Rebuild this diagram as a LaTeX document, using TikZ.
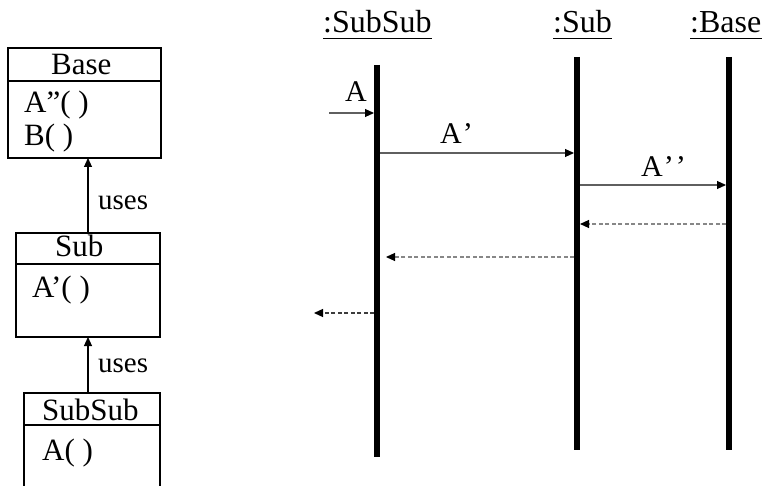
\documentclass[tikz,border=0pt]{standalone}
\usepackage{fontspec}
\setmainfont{Liberation Serif}
\usetikzlibrary{arrows.meta}
\begin{document}
\begin{tikzpicture}[x=1pt,y=-1pt,
  txt/.style={anchor=base west,inner sep=0pt,font=\fontsize{31}{36}\selectfont},
  hdr/.style={anchor=base west,inner sep=0pt,font=\fontsize{32}{38}\selectfont},
  lbl/.style={anchor=base west,inner sep=0pt,font=\fontsize{30}{36}\selectfont},
  usestxt/.style={anchor=base west,inner sep=0pt,font=\fontsize{29}{35}\selectfont},
  box/.style={draw=black,line width=1.1pt},
  life/.style={line width=5.8pt,black},
  msg/.style={draw={rgb,255:red,95;green,95;blue,95},line width=1.1pt,-{Triangle[length=9pt,width=8pt,black]}},
  ret/.style={draw={rgb,255:red,135;green,135;blue,135},line width=1.1pt,dash pattern=on 4pt off 2.5pt,-{Triangle[length=9pt,width=8pt,black]}},
  retdark/.style={draw={rgb,255:red,60;green,60;blue,60},line width=1.3pt,dash pattern=on 4pt off 2.5pt,-{Triangle[length=9pt,width=8pt,black]}},
  uses/.style={draw=black,line width=1.1pt,-{Triangle[length=9pt,width=8pt]}}]
\useasboundingbox (0,0) rectangle (765,486);
\clip (0,0) rectangle (765,486);
% class boxes
\draw[box] (8,48) rectangle (161,158);
\draw[box] (8,81) -- (161,81);
\node[txt] (tbase) at (51,75) {Base};
\node[txt] (tbA) at (24,113) {A”( )};
\node[txt] (tbB) at (24,146) {B( )};
\coordinate (basebot) at (88,158);

\draw[box] (16,233) rectangle (160,337);
\draw[box] (16,264) -- (160,264);
\node[txt] (tsub) at (55,257) {Sub};
\node[txt] (tsA) at (32,297) {A’( )};
\coordinate (subtop) at (88,233);
\coordinate (subbot) at (88,337);

\draw[box] (24,495) -- (24,393) -- (160,393) -- (160,495);
\draw[box] (24,425) -- (160,425);
\node[txt] (tss) at (42,420) {SubSub};
\node[txt] (tssA) at (42,460) {A( )};
\coordinate (sstop) at (88,393);

\draw[uses] (subtop) -- (basebot);
\node[usestxt] (u1) at (98,210) {uses};
\draw[uses] (sstop) -- (subbot);
\node[usestxt] (u2) at (98,372) {uses};

% sequence headers
\node[hdr] (hss) at (323,33) {:SubSub};
\node[hdr] (hs) at (553,33) {:Sub};
\node[hdr] (hb) at (690,33) {:Base};
\draw[line width=1.2pt] ([yshift=-5.5pt]hss.base west) -- ([yshift=-5.5pt]hss.base east);
\draw[line width=1.2pt] ([yshift=-5.5pt]hs.base west) -- ([yshift=-5.5pt]hs.base east);
\draw[line width=1.2pt] ([yshift=-5.5pt]hb.base west) -- ([yshift=-5.5pt]hb.base east);

% lifelines
\coordinate (l1t) at (377,65); \coordinate (l1b) at (377,457);
\coordinate (l2t) at (577,57); \coordinate (l2b) at (577,450);
\coordinate (l3t) at (729,57); \coordinate (l3b) at (729,450);
\draw[life] (l1t) -- (l1b);
\draw[life] (l2t) -- (l2b);
\draw[life] (l3t) -- (l3b);

% messages
\coordinate (m0s) at (329,113); \coordinate (m0e) at (374,113);
\draw[msg] (m0s) -- (m0e);
\node[lbl] (lA) at (345,102) {A};
\coordinate (m1s) at (380,153); \coordinate (m1e) at (574,153);
\draw[msg] (m1s) -- (m1e);
\node[lbl] (lA1) at (440,144) {A\kern1pt’};
\coordinate (m2s) at (580,185); \coordinate (m2e) at (726,185);
\draw[msg] (m2s) -- (m2e);
\node[lbl] (lA2) at (641,177) {A\kern1pt’\kern2pt’};
\coordinate (r1s) at (726,224); \coordinate (r1e) at (580,224);
\draw[ret] (r1s) -- (r1e);
\coordinate (r2s) at (574,257); \coordinate (r2e) at (386,257);
\draw[ret] (r2s) -- (r2e);
\coordinate (r3s) at (374,313); \coordinate (r3e) at (314,313);
\draw[retdark] (r3s) -- (r3e);
\end{tikzpicture}
\end{document}
